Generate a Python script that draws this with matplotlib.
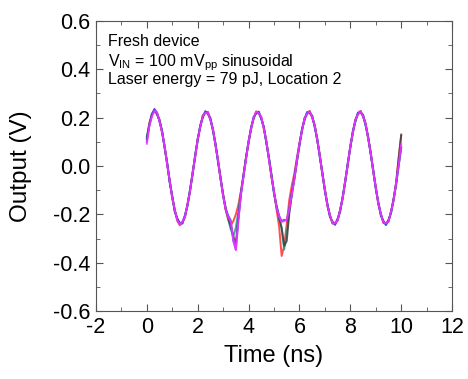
import numpy as np
import matplotlib
matplotlib.use("Agg")
import matplotlib.pyplot as plt
from matplotlib.ticker import MultipleLocator

plt.rcParams["font.family"] = ["Liberation Sans", "DejaVu Sans"]
plt.rcParams["mathtext.fontset"] = "custom"
plt.rcParams["mathtext.rm"] = "Liberation Sans"
plt.rcParams["axes.unicode_minus"] = False

# time axis, 0.1 ns steps
time_ns = np.round(np.arange(0, 101) * 0.1, 2)

red = [
    0.110, 0.178, 0.215, 0.232, 0.212, 0.192, 0.136, 0.084, 0.004, -0.058,
    -0.134, -0.180, -0.228, -0.245, -0.230, -0.212, -0.156, -0.104, -0.026, 0.036,
    0.114, 0.160, 0.209, 0.220, 0.224, 0.190, 0.153, 0.084, 0.025, -0.056,
    -0.116, -0.182, -0.222, -0.245, -0.228, -0.200, -0.160, -0.104, -0.036, 0.035,
    0.095, 0.162, 0.195, 0.226, 0.216, 0.203, 0.152, 0.104, 0.026, -0.046,
    -0.105, -0.180, -0.250, -0.372, -0.330, -0.240, -0.140, -0.080, -0.030, 0.035,
    0.094, 0.144, 0.199, 0.214, 0.228, 0.200, 0.170, 0.104, 0.046, -0.035,
    -0.095, -0.166, -0.203, -0.238, -0.235, -0.226, -0.180, -0.134, -0.058, 0.004,
    0.084, 0.137, 0.193, 0.213, 0.228, 0.204, 0.176, 0.114, 0.058, -0.024,
    -0.086, -0.158, -0.197, -0.236, -0.236, -0.230, -0.187, -0.143, -0.068, 0.035, 0.125,
]
teal = [
    0.122, 0.175, 0.211, 0.227, 0.214, 0.191, 0.144, 0.076, 0.012, -0.066,
    -0.126, -0.187, -0.219, -0.236, -0.237, -0.204, -0.164, -0.097, -0.034, 0.044,
    0.106, 0.167, 0.201, 0.226, 0.216, 0.197, 0.146, 0.092, 0.017, -0.049,
    -0.123, -0.174, -0.221, -0.262, -0.290, -0.255, -0.185, -0.107, -0.044, 0.034,
    0.096, 0.160, 0.196, 0.224, 0.218, 0.196, 0.160, 0.096, 0.034, -0.038,
    -0.113, -0.166, -0.215, -0.260, -0.345, -0.280, -0.190, -0.117, -0.049, 0.017,
    0.086, 0.152, 0.191, 0.222, 0.220, 0.207, 0.162, 0.112, 0.038, -0.027,
    -0.103, -0.158, -0.210, -0.231, -0.242, -0.219, -0.187, -0.127, -0.066, 0.012,
    0.076, 0.144, 0.185, 0.220, 0.221, 0.211, 0.169, 0.121, 0.050, -0.016,
    -0.093, -0.150, -0.204, -0.228, -0.243, -0.223, -0.194, -0.136, -0.076, 0.000, 0.080,
]
dark = [
    0.114, 0.169, 0.214, 0.230, 0.219, 0.186, 0.143, 0.077, 0.011, -0.065,
    -0.127, -0.186, -0.220, -0.241, -0.232, -0.209, -0.159, -0.102, -0.029, 0.039,
    0.111, 0.162, 0.206, 0.221, 0.221, 0.192, 0.151, 0.087, 0.022, -0.054,
    -0.118, -0.179, -0.214, -0.250, -0.290, -0.320, -0.210, -0.112, -0.039, 0.033,
    0.101, 0.155, 0.201, 0.219, 0.223, 0.197, 0.159, 0.097, 0.033, -0.039,
    -0.108, -0.171, -0.214, -0.255, -0.330, -0.310, -0.195, -0.118, -0.054, 0.018,
    0.091, 0.147, 0.196, 0.217, 0.225, 0.202, 0.167, 0.107, 0.043, -0.032,
    -0.098, -0.163, -0.205, -0.236, -0.237, -0.224, -0.182, -0.132, -0.061, 0.007,
    0.081, 0.139, 0.190, 0.215, 0.226, 0.206, 0.174, 0.116, 0.055, -0.021,
    -0.088, -0.155, -0.199, -0.233, -0.238, -0.228, -0.189, -0.141, -0.071, 0.030, 0.130,
]
blue = [
    0.100, 0.168, 0.212, 0.236, 0.220, 0.183, 0.145, 0.075, 0.013, -0.068,
    -0.125, -0.189, -0.218, -0.236, -0.238, -0.203, -0.165, -0.096, -0.035, 0.045,
    0.105, 0.168, 0.200, 0.226, 0.215, 0.198, 0.145, 0.093, 0.016, -0.048,
    -0.125, -0.175, -0.205, -0.225, -0.310, -0.345, -0.220, -0.120, -0.040, 0.035,
    0.103, 0.153, 0.203, 0.217, 0.225, 0.195, 0.161, 0.095, 0.035, -0.037,
    -0.114, -0.165, -0.205, -0.228, -0.222, -0.225, -0.175, -0.110, -0.050, 0.024,
    0.085, 0.153, 0.190, 0.223, 0.219, 0.208, 0.161, 0.113, 0.037, -0.026,
    -0.104, -0.157, -0.211, -0.230, -0.243, -0.218, -0.188, -0.126, -0.067, 0.013,
    0.075, 0.145, 0.184, 0.221, 0.220, 0.212, 0.168, 0.122, 0.049, -0.015,
    -0.094, -0.149, -0.205, -0.227, -0.244, -0.222, -0.195, -0.135, -0.077, 0.002, 0.075,
]
magenta = [
    0.092, 0.165, 0.205, 0.228, 0.222, 0.185, 0.138, 0.082, 0.006, -0.060,
    -0.132, -0.181, -0.225, -0.242, -0.231, -0.210, -0.158, -0.103, -0.028, 0.038,
    0.112, 0.161, 0.207, 0.219, 0.222, 0.191, 0.152, 0.086, 0.023, -0.055,
    -0.123, -0.180, -0.212, -0.230, -0.305, -0.348, -0.225, -0.115, -0.044, 0.028,
    0.102, 0.154, 0.202, 0.224, 0.218, 0.202, 0.154, 0.102, 0.028, -0.044,
    -0.107, -0.172, -0.209, -0.231, -0.228, -0.222, -0.180, -0.117, -0.055, 0.023,
    0.092, 0.146, 0.197, 0.216, 0.226, 0.201, 0.168, 0.106, 0.044, -0.033,
    -0.097, -0.164, -0.204, -0.237, -0.236, -0.225, -0.181, -0.133, -0.060, 0.006,
    0.082, 0.138, 0.191, 0.214, 0.227, 0.205, 0.175, 0.115, 0.056, -0.022,
    -0.087, -0.156, -0.198, -0.234, -0.237, -0.229, -0.188, -0.142, -0.070, 0.005, 0.090,
]

traces = [
    (red, "#ff3030"),
    (teal, "#1fa08a"),
    (dark, "#404040"),
    (blue, "#3040ff"),
    (magenta, "#ff30ff"),
]

fig = plt.figure(figsize=(4.68, 3.79), dpi=100)
ax = fig.add_axes([0.205, 0.179, 0.761, 0.766])

for vals, col in traces:
    ax.plot(time_ns, vals, color=col, lw=1.4, alpha=0.85)

ax.set_xlim(-2, 12)
ax.set_ylim(-0.6, 0.6)
ax.xaxis.set_major_locator(MultipleLocator(2))
ax.xaxis.set_minor_locator(MultipleLocator(1))
ax.yaxis.set_major_locator(MultipleLocator(0.2))
ax.yaxis.set_minor_locator(MultipleLocator(0.1))
ax.yaxis.set_major_formatter(plt.FormatStrFormatter("%.1f"))
ax.tick_params(which="both", direction="in", top=True, right=True, color="#555555")
ax.tick_params(which="major", length=5, labelsize=15.5, pad=4)
ax.tick_params(which="minor", length=3)
for s in ax.spines.values():
    s.set_color("#555555")

ax.set_xlabel("Time (ns)", fontsize=17)
ax.set_ylabel("Output (V)", fontsize=17.5)
ax.xaxis.set_label_coords(0.5, -0.115)
ax.yaxis.set_label_coords(-0.18, 0.5)

ax.text(0.034, 0.914, "Fresh device", transform=ax.transAxes, fontsize=11.5, va="baseline")
ax.text(0.034, 0.845, r"V$_{\rm IN}$ = 100 mV$_{\rm pp}$ sinusoidal", transform=ax.transAxes,
        fontsize=11.5, va="baseline")
ax.text(0.034, 0.783, "Laser energy = 79 pJ, Location 2", transform=ax.transAxes,
        fontsize=11.5, va="baseline")

fig.savefig("out.png", dpi=100)
